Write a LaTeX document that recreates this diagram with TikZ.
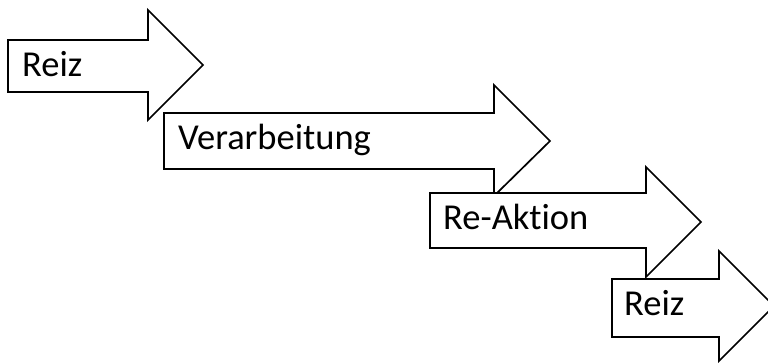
\documentclass[tikz,border=0pt]{standalone}
\usepackage{fontspec}
\setmainfont{Carlito}[Ligatures={NoCommon}]
\begin{document}
\begin{tikzpicture}[x=1pt,y=-1pt,
  arr/.style={draw=black,fill=white,line width=1.7pt,line join=miter},
  lbl/.style={anchor=base west,inner sep=0pt,font=\fontsize{36.5}{40}\selectfont}]
\useasboundingbox (0,0) rectangle (768,362);
\clip (0,0) rectangle (768,362);
% arrow 1
\draw[arr] (8,40) -- (148,40) -- (148,10) -- (203,65) -- (148,120) -- (148,92) -- (8,92) -- cycle;
\node[lbl] (a) at (22,76) {Reiz};
% arrow 2
\draw[arr] (164,113) -- (494,113) -- (494,85) -- (550,141) -- (494,196) -- (494,169) -- (164,169) -- cycle;
\node[lbl] (b) at (178,149) {Verarbeitung};
% arrow 3
\draw[arr] (430,193) -- (646,193) -- (646,167) -- (701,222) -- (646,277) -- (646,248) -- (430,248) -- cycle;
\node[lbl] (c) at (443,229) {Re-Aktion};
% arrow 4
\draw[arr] (612,279) -- (719,279) -- (719,251) -- (774,306) -- (719,361) -- (719,337) -- (612,337) -- cycle;
\node[lbl] (d) at (624,315) {Reiz};
\end{tikzpicture}
\end{document}
